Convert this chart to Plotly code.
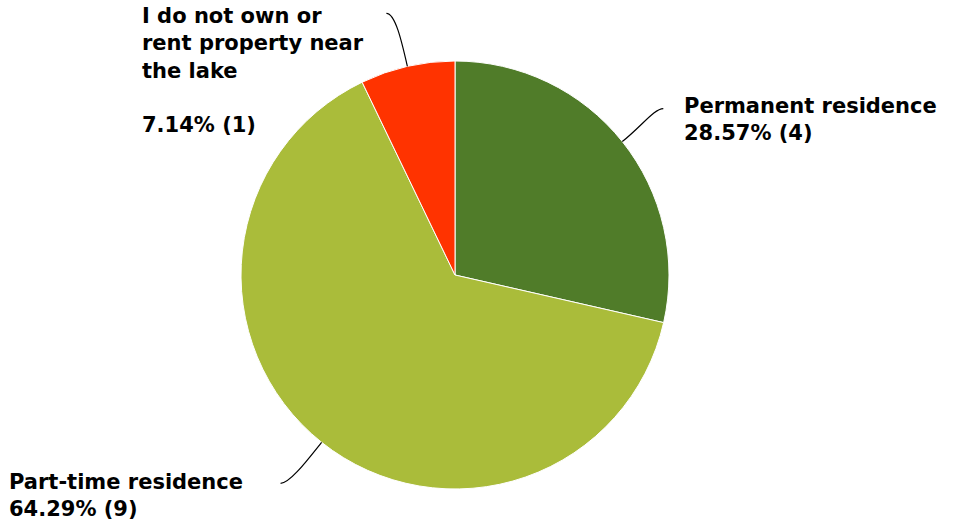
import math
import plotly.graph_objects as go

# Survey answers and counts
categories = ["Permanent residence", "Part-time residence",
              "I do not own or rent property near the lake"]
counts = [4, 9, 1]
# Wrapped label text shown next to each slice
label_lines = ["Permanent residence", "Part-time residence",
               "I do not own or<br>rent property near<br>the lake<br>"]
colors = ["#507C29", "#AABC3A", "#FF3300"]

W, H = 957, 523
CX, CY, R = 455, 275, 214  # pie centre / radius in pixels

total = sum(counts)
pcts = [100.0 * c / total for c in counts]

fig = go.Figure(go.Pie(
    labels=categories, values=counts, sort=False, direction="clockwise",
    rotation=0, marker=dict(colors=colors, line=dict(color="white", width=1)),
    textinfo="none", hoverinfo="label+percent+value", showlegend=False,
    domain=dict(x=[(CX - R) / W, (CX + R) / W],
                y=[1 - (CY + R) / H, 1 - (CY - R) / H]),
))


def px(x, y):
    return x / W, 1 - y / H


# Label layout: (text-box left, text-box top, leader end offset from slice edge)
label_pos = [
    dict(x=682, y=92, end=(41, -33)),
    dict(x=7, y=467.5, end=(-41, 41)),
    dict(x=140, y=2, end=(-21, -53)),
]

annotations, shapes = [], []
cum = 0
for i, (c, p) in enumerate(zip(counts, pcts)):
    mid = (cum + c / 2) / total
    cum += c
    ang = math.radians(90 - 360 * mid)
    dx, dy = math.cos(ang), -math.sin(ang)
    sx, sy = CX + R * dx, CY + R * dy
    ex, ey = sx + label_pos[i]["end"][0], sy + label_pos[i]["end"][1]
    c1x, c1y = sx + 25 * dx, sy + 25 * dy
    side = 1 if ex > sx else -1
    c2x, c2y = ex - side * 9, ey
    pts = [px(sx, sy), px(c1x, c1y), px(c2x, c2y), px(ex, ey)]
    path = "M {} {} C {} {}, {} {}, {} {}".format(
        *[v for pt in pts for v in pt])
    shapes.append(dict(type="path", path=path, xref="paper", yref="paper",
                       line=dict(color="black", width=1.2)))
    lx, ly = px(label_pos[i]["x"], label_pos[i]["y"])
    annotations.append(dict(
        x=lx, y=ly, xref="paper", yref="paper", xanchor="left", yanchor="top",
        align="left", showarrow=False,
        text=f"<b>{label_lines[i]}<br>{p:.2f}% ({c})</b>",
        font=dict(family="DejaVu Sans", size=21, color="black"),
    ))

fig.update_layout(
    width=W, height=H, margin=dict(l=0, r=0, t=0, b=0),
    paper_bgcolor="white", plot_bgcolor="white",
    annotations=annotations, shapes=shapes,
)

fig.write_html("out.html")
